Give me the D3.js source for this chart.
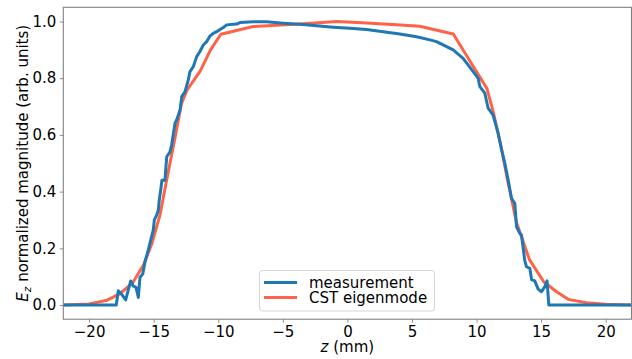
<!DOCTYPE html>
<html>
<head>
<meta charset="utf-8">
<script src="https://cdn.jsdelivr.net/npm/d3@7"></script>
<style>
  html, body { margin: 0; padding: 0; background: #fff; }
  svg text { font-family: "DejaVu Sans", sans-serif; fill: #000; }
</style>
</head>
<body>
<div id="chart"></div>
<script>
// measured field profile (z in mm, normalized |Ez|)
const measZ = [-22, -17.9, -17.74, -17.55, -17.17, -16.78, -16.58, -16.37, -16.19, -16.06, -15.85, -15.67, -15.42,
  -15.29, -15.03, -14.95, -14.77, -14.64, -14.57, -14.46, -14.36, -14.13, -13.99, -13.74, -13.61, -13.35, -13.22,
  -12.96, -12.83, -12.58, -12.32, -12.19, -11.93, -11.67, -11.42, -11.16, -10.9, -10.65, -10.39, -10.12, -9.87,
  -9.61, -9.35, -8.58, -8.32, -7.29, -6.25, -4.97, -3.68, -2.38, -1.1, 0.19, 1.49, 2.77, 4.06, 5.36, 6.39, 6.9,
  8.19, 8.96, 9.74, 10.12, 10.26, 10.64, 10.9, 11.28, 11.67, 11.94, 12.19, 12.45, 12.71, 12.96, 13.1, 13.35,
  13.48, 13.74, 13.87, 14.13, 14.26, 14.51, 14.77, 15.03, 15.29, 15.46, 15.6, 22];
const measE = [0, 0, 0.05, 0.042, 0.018, 0.085, 0.067, 0.062, 0.027, 0.098, 0.109, 0.153, 0.194,
  0.218, 0.265, 0.30, 0.317, 0.335, 0.37, 0.405, 0.44, 0.44, 0.523, 0.54, 0.564, 0.641, 0.653,
  0.688, 0.735, 0.752, 0.794, 0.823, 0.841, 0.876, 0.894, 0.917, 0.929, 0.948, 0.958, 0.964, 0.972,
  0.979, 0.988, 0.991, 0.996, 0.999, 0.999, 0.994, 0.99, 0.985, 0.98, 0.976, 0.972, 0.964, 0.956, 0.946, 0.935, 0.929,
  0.90, 0.87, 0.823, 0.80, 0.77, 0.747, 0.694, 0.67, 0.606, 0.547, 0.50, 0.441, 0.376, 0.359, 0.276, 0.253,
  0.247, 0.156, 0.135, 0.129, 0.09, 0.085, 0.056, 0.047, 0.065, 0.085, 0, 0];

// simulated eigenmode profile
const cstZ = [-22, -20, -18.6, -17.6, -16.6, -15.8, -15.15, -14.5, -14, -13.35, -12.85, -12.4, -11.4, -10.6, -9.8,
  -7.3, -3.7, -0.8, 1.5, 4.1, 5.6, 8.2, 10.0, 10.8, 11.3, 11.9, 12.4, 13.1, 14.1, 15.2, 16.2, 17.1, 18.5, 20, 22];
const cstE = [0, 0.004, 0.017, 0.04, 0.08, 0.14, 0.215, 0.32, 0.44, 0.59, 0.71, 0.76, 0.825, 0.9, 0.955,
  0.982, 0.991, 1.0, 0.995, 0.988, 0.983, 0.956, 0.823, 0.764, 0.68, 0.56, 0.44, 0.29, 0.16, 0.082, 0.047, 0.02, 0.008, 0.003, 0];

const xTicks = [-20, -15, -10, -5, 0, 5, 10, 15, 20];
const yTicks = [0, 0.2, 0.4, 0.6, 0.8, 1.0];
const seriesNames = ["measurement", "CST eigenmode"];
const seriesColors = ["#1f77b4", "#ff6347"];

const W = 632, H = 359;
const plot = {left: 63.3, right: 631.5, top: 7.3, bottom: 319.2};

const svg = d3.select("#chart")
    .append("svg")
    .attr("width", W)
    .attr("height", H);

const x = d3.scaleLinear().domain([-22, 22]).range([plot.left, plot.right]);
const y = d3.scaleLinear().domain([-0.05, 1.05]).range([plot.bottom, plot.top]);

const fmtMinus = d => (d < 0 ? "\u2212" + Math.abs(d) : String(d));

// x axis
const gx = svg.append("g")
    .attr("transform", `translate(0,${plot.bottom})`)
    .call(d3.axisBottom(x).tickValues(xTicks).tickSize(3.5).tickPadding(3.5).tickFormat(fmtMinus));
gx.select(".domain").remove();
gx.selectAll(".tick line").attr("stroke", "#808080").attr("stroke-width", 0.9);
gx.selectAll(".tick text").attr("font-size", 15).attr("font-family", "DejaVu Sans").attr("fill", "#000");

// y axis
const gy = svg.append("g")
    .attr("transform", `translate(${plot.left},0)`)
    .call(d3.axisLeft(y).tickValues(yTicks).tickSize(3.5).tickPadding(3.5).tickFormat(d3.format(".1f")));
gy.select(".domain").remove();
gy.selectAll(".tick line").attr("stroke", "#808080").attr("stroke-width", 0.9);
gy.selectAll(".tick text").attr("font-size", 15).attr("font-family", "DejaVu Sans").attr("fill", "#000");

// lines
const clip = svg.append("clipPath").attr("id", "clip")
    .append("rect")
    .attr("x", plot.left).attr("y", plot.top)
    .attr("width", plot.right - plot.left).attr("height", plot.bottom - plot.top);

const line = d3.line()
    .x(d => x(d[0]))
    .y(d => y(d[1]));

const cstData = d3.zip(cstZ, cstE);
const measData = d3.zip(measZ, measE);

const lines = svg.append("g").attr("clip-path", "url(#clip)");
lines.append("path")
    .datum(cstData)
    .attr("fill", "none")
    .attr("stroke", seriesColors[1])
    .attr("stroke-width", 3)
    .attr("stroke-linejoin", "round")
    .attr("d", line);
lines.append("path")
    .datum(measData)
    .attr("fill", "none")
    .attr("stroke", seriesColors[0])
    .attr("stroke-width", 3)
    .attr("stroke-linejoin", "round")
    .attr("d", line);

// frame
svg.append("rect")
    .attr("x", plot.left).attr("y", plot.top)
    .attr("width", plot.right - plot.left).attr("height", plot.bottom - plot.top)
    .attr("fill", "none")
    .attr("stroke", "#808080")
    .attr("stroke-width", 1.1);

// axis labels
const xl = svg.append("text")
    .attr("x", x(0))
    .attr("y", 352)
    .attr("text-anchor", "middle")
    .attr("font-size", 15);
xl.append("tspan").attr("font-style", "italic").text("z");
xl.append("tspan").text(" (mm)");

const yl = svg.append("text")
    .attr("transform", `translate(28,${(plot.top + plot.bottom) / 2}) rotate(-90)`)
    .attr("text-anchor", "middle")
    .attr("font-size", 15);
yl.append("tspan").attr("font-style", "italic").text("E");
yl.append("tspan").attr("font-style", "italic").attr("font-size", 10.5).attr("dy", 3).text("z");
yl.append("tspan").attr("dy", -3).text(" normalized magnitude (arb. units)");

// legend
const lg = svg.append("g");
lg.append("rect")
    .attr("x", 259.5).attr("y", 270.5)
    .attr("width", 175).attr("height", 40.5)
    .attr("rx", 3)
    .attr("fill", "#fff").attr("fill-opacity", 0.8)
    .attr("stroke", "#d6d6d6");
seriesNames.forEach((name, i) => {
    const yy = 282.5 + i * 15;
    lg.append("line")
        .attr("x1", 264).attr("x2", 297)
        .attr("y1", yy).attr("y2", yy)
        .attr("stroke", seriesColors[i])
        .attr("stroke-width", 3);
    lg.append("text")
        .attr("x", 309).attr("y", yy + 5.3)
        .attr("font-size", 15)
        .text(name);
});
</script>
</body>
</html>
